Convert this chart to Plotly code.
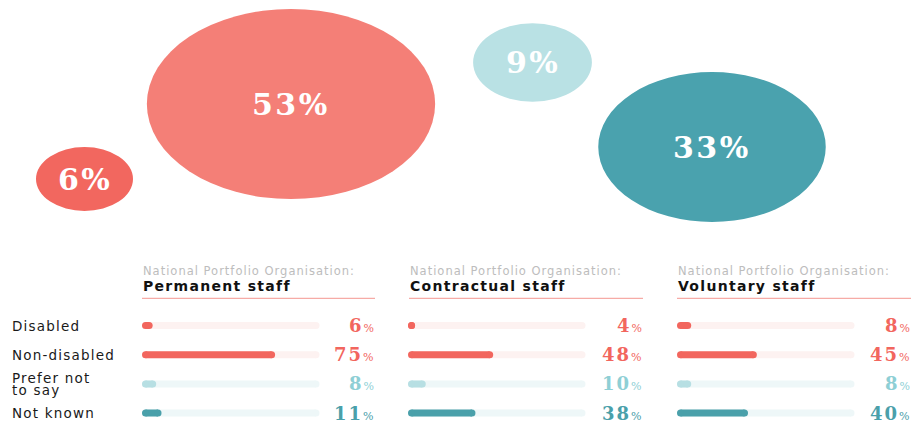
import math
import plotly.graph_objects as go

W, H = 914, 424

# ---------------- data ----------------
BUBBLE_VALUES = [6, 53, 9, 33]          # Disabled, Non-disabled, Prefer not to say, Not known
ROW_LABELS = ["Disabled", "Non-disabled", "Prefer not to say", "Not known"]
PANEL_SUBTITLE = "National Portfolio Organisation:"
PANEL_TITLES = ["Permanent staff", "Contractual staff", "Voluntary staff"]
PERMANENT = [6, 75, 8, 11]
CONTRACTUAL = [4, 48, 10, 38]
VOLUNTARY = [8, 45, 8, 40]
PANEL_VALUES = [PERMANENT, CONTRACTUAL, VOLUNTARY]

# ---------------- layout / style ----------------
BUBBLE_CENTRES = [(84.5, 179), (291, 104), (532.5, 62.5), (712, 147)]  # px
BUBBLE_KX, BUBBLE_KY = 19.8, 13.06   # px per sqrt(%) horizontally / vertically
BUBBLE_COLOURS = ["#F2675F", "#F47F77", "#B9E1E4", "#4AA2AE"]
ROW_COLOURS = ["#F2665E", "#F2665E", "#B7DFE3", "#4AA0AA"]
TRACK_COLOURS = ["#FDF2F1", "#FDF2F1", "#EEF7F8", "#EEF7F8"]
VALUE_COLOURS = ["#F2665E", "#F2665E", "#8ECFD5", "#4AA0AA"]

TRACK_START = [142, 408, 677]
TRACK_LEN = 177.5
HEADER_X = [141, 408, 676]
PANEL_RIGHT = [375, 643, 911]
BAR_PX = 7.0

ROW0_PX, ROW_STEP = 325.5, 29.2
Y_TOP_PX = ROW0_PX - 0.5 * ROW_STEP
Y_BOTTOM_VAL = (H - ROW0_PX) / ROW_STEP

SANS = "DejaVu Sans"
SERIF = "DejaVu Serif"


def px_x(p):
    return p / W


def px_y(p):
    return 1 - p / H


def ls(text, spacing):
    return f"<span style='letter-spacing:{spacing}px'>{text}</span>"


fig = go.Figure()

# ---------- bar panels (rounded bars: thick line + round end markers) ----------
r_units = (BAR_PX / 2) / TRACK_LEN * 100   # cap radius in % units
for k, vals in enumerate(PANEL_VALUES):
    xa = "x" if k == 0 else f"x{k + 1}"
    for i, v in enumerate(vals):
        for val, col in ((100, TRACK_COLOURS[i]), (v, ROW_COLOURS[i])):
            a = r_units
            b = max(val - r_units, r_units)
            fig.add_trace(go.Scatter(
                x=[a, b], y=[i, i], xaxis=xa, yaxis="y", mode="lines+markers",
                line=dict(color=col, width=BAR_PX),
                marker=dict(color=col, size=BAR_PX, line=dict(width=0)),
                hoverinfo="skip", showlegend=False, cliponaxis=False))

annotations = []
shapes = []

# ---------- bubbles ----------
for v, (cx, cy), col in zip(BUBBLE_VALUES, BUBBLE_CENTRES, BUBBLE_COLOURS):
    rx = BUBBLE_KX * math.sqrt(v)
    ry = BUBBLE_KY * math.sqrt(v)
    shapes.append(dict(type="circle", xref="x4", yref="y4",
                       x0=cx - rx, x1=cx + rx, y0=cy - ry, y1=cy + ry,
                       fillcolor=col, line=dict(width=0), layer="below"))
    annotations.append(dict(x=cx, y=cy, xref="x4", yref="y4", showarrow=False,
                            text=ls(f"<b>{v}%</b>", 2.5),
                            font=dict(family=SERIF, size=30, color="white"),
                            xanchor="center", yanchor="middle"))

# ---------- row labels ----------
for i, lab in enumerate(ROW_LABELS):
    if lab == "Prefer not to say":
        parts = [("Prefer not", -5.5), ("to say", 6.0)]
    else:
        parts = [(lab, 0)]
    for txt, shift in parts:
        annotations.append(dict(x=px_x(10), y=i, xref="paper", yref="y", yshift=-shift,
                                showarrow=False, xanchor="left", yanchor="middle",
                                text=ls(txt, 1.2),
                                font=dict(family=SANS, size=13.5, color="#1a1a1a")))

# ---------- headers, lines, values ----------
for k, vals in enumerate(PANEL_VALUES):
    hx = px_x(HEADER_X[k])
    annotations.append(dict(x=hx, y=px_y(270.7), xref="paper", yref="paper", showarrow=False,
                            xanchor="left", yanchor="middle", text=ls(PANEL_SUBTITLE, 1.0),
                            font=dict(family=SANS, size=11.5, color="#BDBDBD")))
    annotations.append(dict(x=hx, y=px_y(285.5), xref="paper", yref="paper", showarrow=False,
                            xanchor="left", yanchor="middle", text=ls(f"<b>{PANEL_TITLES[k]}</b>", 1.3),
                            font=dict(family=SANS, size=14, color="#111111")))
    shapes.append(dict(type="line", xref="paper", yref="paper",
                       x0=px_x(HEADER_X[k] + 1), x1=px_x(PANEL_RIGHT[k]), y0=px_y(298.3), y1=px_y(298.3),
                       line=dict(color="#F6ABA6", width=1.3)))
    for i, v in enumerate(vals):
        annotations.append(dict(x=px_x(PANEL_RIGHT[k] + 1), y=i, xref="paper", yref="y",
                                showarrow=False, xanchor="right", yanchor="middle",
                                text=ls(f"<b>{v}</b>", 2.0) + "<span style='font-size:11px'>%</span>",
                                font=dict(family=SERIF, size=18, color=VALUE_COLOURS[i])))

hidden = dict(visible=False, showgrid=False, zeroline=False, fixedrange=True)

layout_axes = {}
for k in range(3):
    name = "xaxis" if k == 0 else f"xaxis{k + 1}"
    layout_axes[name] = dict(hidden, domain=[px_x(TRACK_START[k]), px_x(TRACK_START[k] + TRACK_LEN)],
                             range=[0, 100], anchor="y")
layout_axes["yaxis"] = dict(hidden, domain=[0, px_y(Y_TOP_PX)], range=[Y_BOTTOM_VAL, -0.5], anchor="x")
layout_axes["xaxis4"] = dict(hidden, domain=[0, 1], range=[0, W], anchor="y4")
layout_axes["yaxis4"] = dict(hidden, domain=[0, 1], range=[H, 0], anchor="x4")

fig.update_layout(
    width=W, height=H, margin=dict(l=0, r=0, t=0, b=0),
    paper_bgcolor="white", plot_bgcolor="rgba(0,0,0,0)",
    showlegend=False,
    annotations=annotations, shapes=shapes,
    **layout_axes,
)

fig.write_html("out.html", config={"displayModeBar": False})
